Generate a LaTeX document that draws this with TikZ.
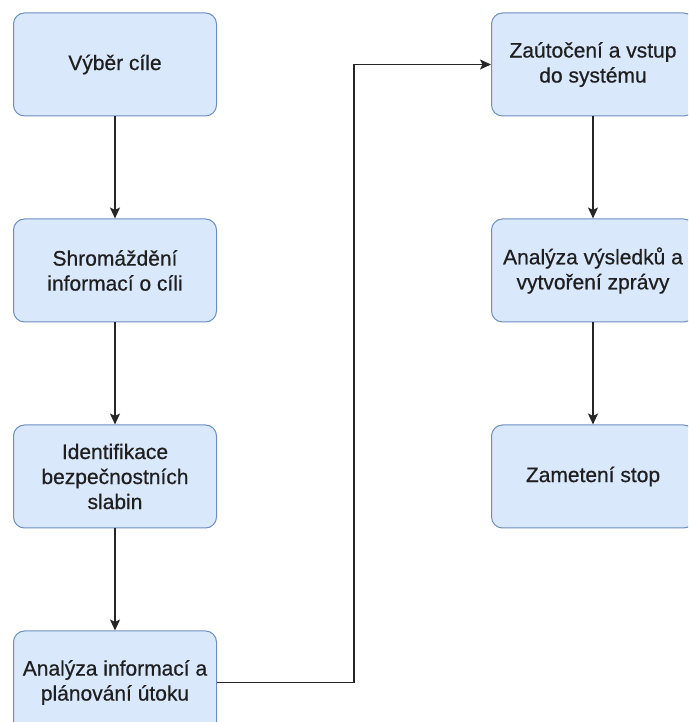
\documentclass[tikz,border=0pt]{standalone}
\usepackage{fontspec}
\setmainfont{Liberation Sans}
\newfontfamily\krokfont[FakeBold=0.6]{Liberation Sans}
\usetikzlibrary{positioning,arrows.meta}
\definecolor{boxfill}{HTML}{DAE8FC}
\definecolor{boxline}{HTML}{6C8EBF}
\definecolor{textgray}{HTML}{1F1F1F}
\tikzset{
  krok/.style={draw=boxline, fill=boxfill, rounded corners=11pt, line width=1pt,
    minimum width=203pt, minimum height=103pt, inner sep=1pt,
    align=center, text=textgray, font=\krokfont\fontsize{21}{25}\selectfont},
  sipka/.style={-{Stealth[length=11pt,width=10pt,inset=2.5pt]}, line width=1.6pt, draw=black!85}
}
\begin{document}
\begin{tikzpicture}[x=1pt,y=1pt]
  \useasboundingbox (0,0) rectangle (688,722);
  \clip (0,0) rectangle (688,722);
  % left column
  \node[krok] (vyber) at (115,657.5) {Výběr cíle};
  \node[krok, below=102pt of vyber] (sber) {Shromáždění\\informací o cíli};
  \node[krok, below=102pt of sber] (slabiny) {Identifikace\\bezpečnostních\\slabin};
  \node[krok, below=102pt of slabiny] (analyza) {Analýza informací a\\plánování útoku};
  % right column
  \node[krok] (utok) at (593,657.5) {Zaútočení a vstup\\do systému};
  \node[krok, below=102pt of utok] (zprava) {Analýza výsledků a\\vytvoření zprávy};
  \node[krok, below=102pt of zprava] (stopy) {Zametení stop};

  \draw[sipka] (vyber) -- (sber);
  \draw[sipka] (sber) -- (slabiny);
  \draw[sipka] (slabiny) -- (analyza);
  \draw[sipka] (analyza.east) -- ++(137,0) |- (utok.west);
  \draw[sipka] (utok) -- (zprava);
  \draw[sipka] (zprava) -- (stopy);
\end{tikzpicture}
\end{document}
